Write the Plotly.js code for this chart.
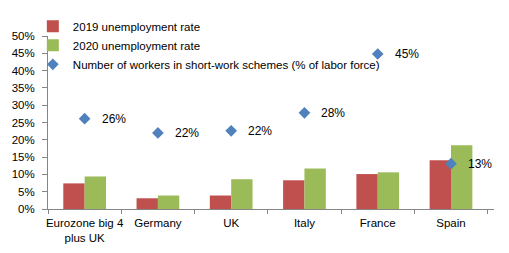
<!DOCTYPE html>
<html>
<head>
<meta charset="utf-8">
<script src="https://cdn.plot.ly/plotly-3.0.1.min.js"></script>
<style>html,body{margin:0;padding:0;background:#fff;}#chart{width:509px;height:253px;}</style>
</head>
<body>
<div id="chart"></div>
<script>
const categories = ["Eurozone big 4<br>plus UK", "Germany", "UK", "Italy", "France", "Spain"];
const unemp2019 = [7.4, 3.1, 3.9, 8.3, 10.1, 14.1];
const unemp2020 = [9.4, 3.9, 8.6, 11.7, 10.6, 18.4];
const shortWork = [26.1, 22.0, 22.6, 27.8, 44.8, 13.1];
const shortWorkLabels = ["26%", "22%", "22%", "28%", "45%", "13%"];
const yTickVals = [0, 5, 10, 15, 20, 25, 30, 35, 40, 45, 50];
const yTickText = ["0%", "5%", "10%", "15%", "20%", "25%", "30%", "35%", "40%", "45%", "50%"];

const FONT = "Liberation Sans, Arial, sans-serif";

const traces = [
  {type: "bar", name: "2019 unemployment rate", x: categories, y: unemp2019,
   marker: {color: "#C0504D"}, hoverinfo: "none"},
  {type: "bar", name: "2020 unemployment rate", x: categories, y: unemp2020,
   marker: {color: "#9BBB59"}, hoverinfo: "none"},
  {type: "scatter", mode: "markers", name: "Number of workers in short-work schemes (% of labor force)",
   x: categories, y: shortWork,
   marker: {symbol: "diamond", size: 9, color: "#4F81BD"}, hoverinfo: "none"}
];

const annotations = categories.map((c, i) => ({
  x: c, y: shortWork[i], text: shortWorkLabels[i], showarrow: false,
  xanchor: "left", yanchor: "middle", xshift: 15,
  font: {family: FONT, size: 12, color: "#000"}
}));

const layout = {
  width: 509, height: 253,
  margin: {l: 48, r: 15, t: 36, b: 44},
  paper_bgcolor: "#fff", plot_bgcolor: "#fff",
  font: {family: FONT, size: 11, color: "#000"},
  barmode: "group", bargap: 0.417, bargroupgap: 0,
  showlegend: true,
  legend: {x: -0.034, xanchor: "left", y: 1.14, yanchor: "top", orientation: "v",
           font: {family: FONT, size: 11.5, color: "#000"}, bgcolor: "rgba(0,0,0,0)",
           itemwidth: 30, tracegroupgap: 0},
  xaxis: {type: "category", showline: true, linecolor: "#868686", linewidth: 1,
          ticks: "outside", tickson: "boundaries", ticklen: 4, tickcolor: "#868686",
          showgrid: false, zeroline: false, tickfont: {family: FONT, size: 11.5},
          tickangle: 0, automargin: false, ticklabelstandoff: 3},
  yaxis: {range: [0, 50], tickmode: "array", tickvals: yTickVals, ticktext: yTickText,
          showline: true, automargin: false,
          linecolor: "#868686", linewidth: 1, ticks: "outside", ticklen: 5,
          tickcolor: "#868686", showgrid: false, zeroline: false,
          tickfont: {family: FONT, size: 11.5}, ticklabelstandoff: 5},
  annotations: annotations
};

Plotly.newPlot("chart", traces, layout, {displayModeBar: false, staticPlot: true});
</script>
</body>
</html>
